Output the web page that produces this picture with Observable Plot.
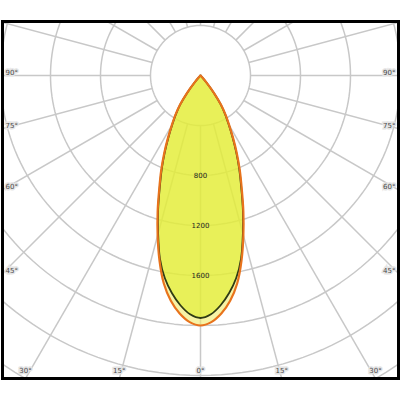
<!DOCTYPE html>
<html>
<head>
<meta charset="utf-8">
<script src="https://cdn.jsdelivr.net/npm/d3@7"></script>
<script src="https://cdn.jsdelivr.net/npm/@observablehq/plot@0.6"></script>
<style>
  html, body { margin: 0; padding: 0; background: #fff; }
  #chart svg { display: block; }
</style>
</head>
<body>
<div id="chart"></div>
<script>
// Polar angles (degrees from nadir) and luminous intensity (cd) for two planes
const angles   = [0, 2.5, 5, 7.5, 10, 12.5, 15, 17.5, 20, 22.5, 25, 27.5, 30, 32.5, 35, 37.5, 40, 42.5, 45];
const planeA   = [2000, 1975, 1912, 1818, 1690, 1516, 1325, 1140, 965, 822, 688, 565, 460, 375, 288, 182, 80, 20, 0];
const planeB   = [1940, 1912, 1845, 1755, 1645, 1500, 1310, 1128, 953, 810, 676, 554, 450, 366, 280, 176, 76, 18, 0];

// Grid definitions
const ringValues   = [400, 800, 1200, 1600, 2000, 2400, 2800, 3200];
const spokeAngles  = [0, 15, 30, 45, 60, 75, 90, 105, 120, 135, 150, 165, 180, 195, 210, 225, 240, 255, 270, 285, 300, 315, 330, 345];
const radialLabels = [800, 1200, 1600];
const sideLabels   = [90, 75, 60, 45];
const bottomLabels = [-30, -15, 0, 15, 30];

const rad = d => d * Math.PI / 180;
const px = (deg, v) => v * Math.sin(rad(deg));
const py = (deg, v) => -v * Math.cos(rad(deg));

function polygon(values) {
  const pts = [];
  for (let i = angles.length - 2; i >= 1; i--) pts.push({a: -angles[i], v: values[i]});
  pts.push({a: 0, v: values[0]});
  for (let i = 1; i < angles.length - 1; i++) pts.push({a: angles[i], v: values[i]});
  pts.push({a: angles[angles.length - 1], v: values[angles.length - 1]});
  return pts.map(p => ({x: px(p.a, p.v), y: py(p.a, p.v)}));
}

const ringPts = [];
for (const r of ringValues) {
  for (let a = 0; a < 360; a += 2) ringPts.push({r, x: px(a, r), y: py(a, r)});
}
const spokes = spokeAngles.map(a => ({x1: px(a, 400), y1: py(a, 400), x2: px(a, 5000), y2: py(a, 5000)}));

const X0 = -1584, X1 = 1584, Y0 = -2424, Y1 = 432;
const polyA = polygon(planeA);
const polyB = polygon(planeB);

const sideL = sideLabels.map(a => ({t: a + "°", x: X0, y: -(X1) / Math.tan(rad(a))}));
const sideR = sideLabels.map(a => ({t: a + "°", x: X1, y: -(X1) / Math.tan(rad(a))}));
const bottom = bottomLabels.map(a => ({t: Math.abs(a) + "°", x: -Y0 * Math.tan(rad(a)), y: Y0}));

const grid = "#c8c8c8";
const lab = {fontSize: 7, fill: "#4a4a4a", stroke: "#e4e4e4", strokeWidth: 3, strokeLinejoin: "miter"};
const chart = Plot.plot({
  width: 400,
  height: 400,
  marginTop: 21, marginBottom: 22, marginLeft: 2, marginRight: 2,
  x: {domain: [X0, X1], axis: null},
  y: {domain: [Y0, Y1], axis: null},
  style: {background: "#fff", fontFamily: "DejaVu Sans, sans-serif"},
  marks: [
    Plot.line(ringPts, {x: "x", y: "y", z: "r", curve: "linear-closed", stroke: grid, strokeWidth: 1.5, clip: true}),
    Plot.link(spokes, {x1: "x1", y1: "y1", x2: "x2", y2: "y2", stroke: grid, strokeWidth: 1.5, clip: true}),
    Plot.line(polyA, {x: "x", y: "y", curve: "catmull-rom-closed", fill: "#f2eb6b", fillOpacity: 0.6, stroke: "none"}),
    Plot.line(polyB, {x: "x", y: "y", curve: "catmull-rom-closed", fill: "#deee27", fillOpacity: 0.6, stroke: "none"}),
    Plot.line(polyB, {x: "x", y: "y", curve: "catmull-rom-closed", stroke: "#2f3b14", strokeWidth: 1.8}),
    Plot.line(polyA, {x: "x", y: "y", curve: "catmull-rom-closed", stroke: "#e8731c", strokeWidth: 2.2}),
    Plot.text(radialLabels, {x: 0, y: d => -d, text: d => String(d), fontSize: 7, fill: "#222"}),
    Plot.text(sideL, {x: "x", y: "y", text: "t", textAnchor: "start", dx: 3, dy: -3, ...lab}),
    Plot.text(sideR, {x: "x", y: "y", text: "t", textAnchor: "end", dx: -3, dy: -3, ...lab}),
    Plot.text(bottom, {x: "x", y: "y", text: "t", textAnchor: "middle", dy: -8, ...lab}),
    Plot.frame({stroke: "#000", strokeWidth: 3})
  ]
});
document.getElementById("chart").appendChild(chart);
</script>
</body>
</html>
